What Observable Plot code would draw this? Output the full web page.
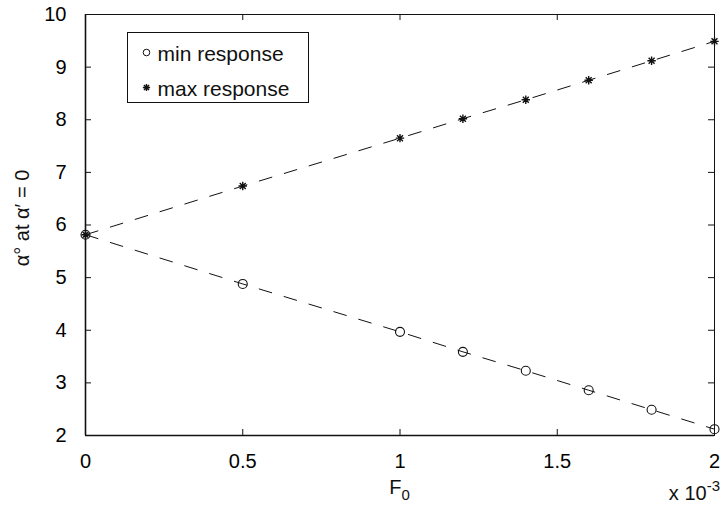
<!DOCTYPE html>
<html><head><meta charset="utf-8">
<script src="https://cdn.jsdelivr.net/npm/d3@7"></script>
<script src="https://cdn.jsdelivr.net/npm/@observablehq/plot@0.6"></script>
<style>
body{margin:0;background:#fff;}
#wrap{position:relative;width:724px;height:512px;}
</style></head><body><div id="wrap"></div>
<script>
const F0 = [0, 0.5, 1, 1.2, 1.4, 1.6, 1.8, 2];
const minResponse = [5.815, 4.88, 3.97, 3.59, 3.23, 2.86, 2.49, 2.12];
const maxResponse = [5.815, 6.74, 7.65, 8.02, 8.38, 8.75, 9.12, 9.49];
const xTicks = [0, 0.5, 1, 1.5, 2];
const yTicks = [2, 3, 4, 5, 6, 7, 8, 9, 10];
const seriesNames = ["min response", "max response"];
const xLabel = "F";
const xLabelSub = "0";
const xExpBase = "x 10";
const xExp = "-3";
const yLabel = "α° at α′ = 0";

const FONT = '"Liberation Sans", Arial, Helvetica, sans-serif';
const W = 724, H = 512, mL = 85, mR = 10, mT = 14, mB = 77;
const innerW = W - mL - mR, innerH = H - mT - mB;

const asterisk8 = {
  draw(ctx, size) {
    const r = Math.sqrt(size / Math.PI), d = r * Math.SQRT1_2;
    ctx.moveTo(-r, 0); ctx.lineTo(r, 0);
    ctx.moveTo(0, -r); ctx.lineTo(0, r);
    ctx.moveTo(-d, -d); ctx.lineTo(d, d);
    ctx.moveTo(-d, d); ctx.lineTo(d, -d);
  }
};

const minData = F0.map((f, i) => ({f, v: minResponse[i]}));
const maxData = F0.map((f, i) => ({f, v: maxResponse[i]}));

const chart = Plot.plot({
  width: W, height: H,
  marginLeft: mL, marginRight: mR, marginTop: mT, marginBottom: mB,
  style: {fontFamily: FONT, fontSize: "20px", color: "#000", background: "#fff"},
  x: {domain: [0, 2]},
  y: {domain: [2, 10]},
  marks: [
    Plot.line(minData, {x: "f", y: "v", stroke: "#111", strokeWidth: 1, strokeDasharray: "13,13"}),
    Plot.line(maxData, {x: "f", y: "v", stroke: "#111", strokeWidth: 1, strokeDasharray: "13,13"}),
    Plot.dot(minData, {x: "f", y: "v", r: 4.5, stroke: "#111", fill: "none", strokeWidth: 1.1, symbol: "circle"}),
    Plot.dot(maxData, {x: "f", y: "v", r: 4.2, stroke: "#111", strokeWidth: 1.4, symbol: asterisk8}),
    Plot.frame({stroke: "#111", strokeWidth: 1}),
    Plot.ruleX([0], {stroke: "#111", strokeWidth: 1.6}),
    Plot.ruleY([2], {stroke: "#111", strokeWidth: 1.6}),
    Plot.tickX(xTicks, {x: d => d, insetTop: innerH - 6, stroke: "#111"}),
    Plot.tickX(xTicks, {x: d => d, insetBottom: innerH - 6, stroke: "#111"}),
    Plot.tickY(yTicks, {y: d => d, insetRight: innerW - 6, stroke: "#111"}),
    Plot.tickY(yTicks, {y: d => d, insetLeft: innerW - 6, stroke: "#111"}),
    Plot.axisX({ticks: xTicks, tickSize: 0, tickPadding: 18, tickFormat: d => String(d), label: null}),
    Plot.axisY({ticks: yTicks, tickSize: 0, tickPadding: 19, tickFormat: d => String(d), label: null})
  ]
});
document.getElementById("wrap").appendChild(chart);

const svg = d3.select(chart);
const xs = chart.scale("x");
const cx = (xs.range[0] + xs.range[1]) / 2;

// x label with subscript
const xl = svg.append("text").attr("x", cx).attr("y", 494).attr("text-anchor", "middle")
  .style("font-family", FONT).style("font-size", "20px").attr("fill", "#111");
xl.append("tspan").text(xLabel);
xl.append("tspan").attr("dy", 6).style("font-size", "15px").text(xLabelSub);

// exponent
const ex = svg.append("text").attr("x", xs.range[1] + 6).attr("y", 500).attr("text-anchor", "end")
  .style("font-family", FONT).style("font-size", "20px").attr("fill", "#111");
ex.append("tspan").text(xExpBase);
ex.append("tspan").attr("dy", -9).style("font-size", "15px").text(xExp);

// y label
svg.append("text").attr("transform", `translate(29,218) rotate(-90)`).attr("text-anchor", "middle")
  .style("font-family", FONT).style("font-size", "20px").attr("fill", "#111").text(yLabel);

// legend
const lg = svg.append("g").attr("transform", "translate(127.5,32.5)");
lg.append("rect").attr("width", 181).attr("height", 70).attr("fill", "#fff").attr("stroke", "#111");
const symbols = [d3.symbol(d3.symbolCircle, Math.PI * 3.3 * 3.3), d3.symbol(asterisk8, Math.PI * 3.6 * 3.6)];
seriesNames.forEach((name, i) => {
  const rowY = 20 + i * 35;
  lg.append("path").attr("d", symbols[i]()).attr("transform", `translate(19,${rowY})`)
    .attr("fill", "none").attr("stroke", "#111").attr("stroke-width", i ? 1.4 : 1);
  lg.append("text").attr("x", 30).attr("y", rowY + 8).attr("text-anchor", "start")
    .style("font-family", FONT).style("font-size", "21px")
    .attr("fill", "#111").text(name);
});
</script></body></html>
